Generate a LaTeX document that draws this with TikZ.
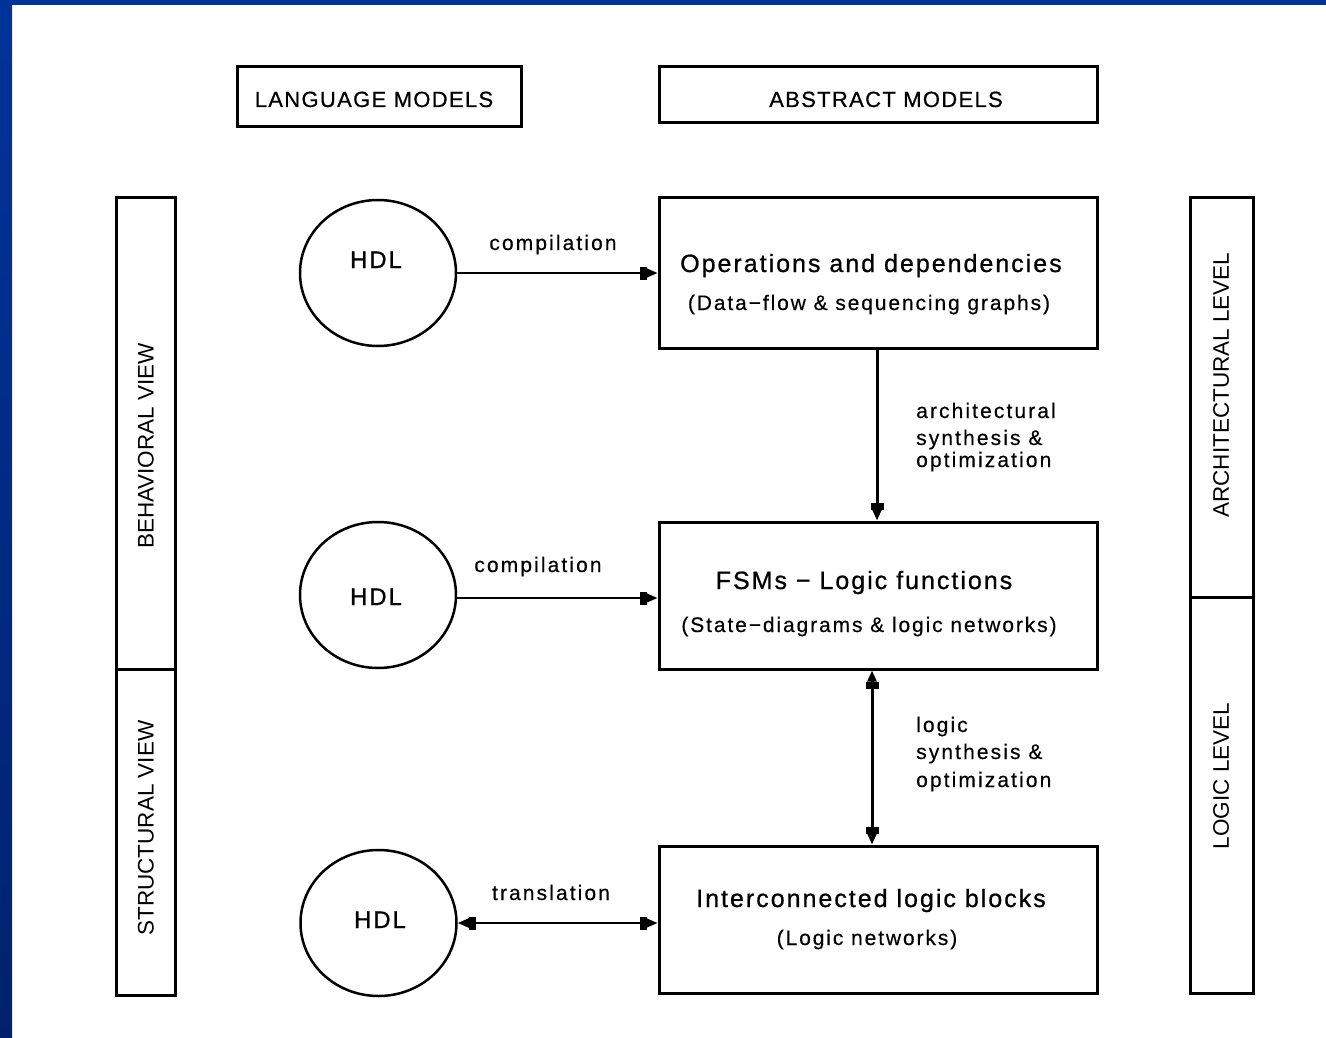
\documentclass[tikz,border=0pt]{standalone}
\usepackage{fontspec}
\usetikzlibrary{arrows.meta,shapes.geometric}
\setmainfont{Liberation Sans}
\newfontfamily\hdrfont[LetterSpace=6,FakeBold=0.6]{Liberation Sans}
\newfontfamily\boxfont[LetterSpace=8,FakeBold=0.8]{Liberation Sans}
\newfontfamily\subfont[LetterSpace=9,FakeBold=0.4]{Liberation Sans}
\newfontfamily\lblfont[LetterSpace=10,FakeBold=0.4]{Liberation Sans}
\newfontfamily\plfont{Liberation Sans}
\definecolor{bluebar}{HTML}{003399}
\definecolor{bluebardark}{HTML}{00226E}
\begin{document}
\begin{tikzpicture}[x=1pt,y=-1pt,
  frame/.style={draw,line width=3pt,inner sep=0pt},
  hdl/.style={draw,ellipse,line width=2.5pt,minimum width=156pt,minimum height=146pt,inner sep=0pt},
  boxtxt/.style={inner sep=0pt,anchor=base,font=\boxfont\fontsize{25}{27}\selectfont},
  subtxt/.style={inner sep=0pt,anchor=base,font=\subfont\fontsize{21}{23}\selectfont},
  lbl/.style={inner sep=0pt,anchor=base,font=\lblfont\fontsize{21}{23}\selectfont},
  lbll/.style={lbl,anchor=base west},
  hdr/.style={inner sep=0pt,anchor=base,font=\hdrfont\fontsize{22}{24}\selectfont},
  vtxt/.style={inner sep=0pt,rotate=90,font=\plfont\fontsize{22.5}{24}\selectfont},
  hdltxt/.style={inner sep=0pt,anchor=base,font=\boxfont\fontsize{24}{26}\selectfont},
  arrtip/.style={line width=2pt,-{Rectangle[length=7pt,width=13pt]Triangle[length=11pt,width=9pt]}},
  arrtipv/.style={line width=3pt,-{Rectangle[length=7pt,width=13pt]Triangle[length=11pt,width=9pt]}},
  bitip/.style={line width=2pt,{Triangle[length=11pt,width=9pt]Rectangle[length=7pt,width=13pt]}-{Rectangle[length=7pt,width=13pt]Triangle[length=11pt,width=9pt]}},
  bitipv/.style={line width=3pt,{Triangle[length=11pt,width=9pt]Rectangle[length=7pt,width=13pt]}-{Rectangle[length=7pt,width=13pt]Triangle[length=11pt,width=9pt]}}
]
\useasboundingbox (0,0) rectangle (1326,1038);
\fill[white] (0,0) rectangle (1326,1038);
% blue border
\fill[bluebar] (0,0) rectangle (1326,5);
\shade[top color=bluebar,bottom color=bluebardark] (0,0) rectangle (12,1038);

% header boxes
\node[frame,minimum width=284pt,minimum height=60pt] (lang) at (379,97) {};
\node[hdr] (langt) at (374,107) {LANGUAGE MODELS};
\node[frame,minimum width=438pt,minimum height=56pt] (abs) at (878,95) {};
\node[hdr] (abst) at (886,107) {ABSTRACT MODELS};

% side view boxes
\node[frame,minimum width=59pt,minimum height=471pt] (beh) at (145.5,433.5) {};
\node[frame,minimum width=59pt,minimum height=326pt] (str) at (145.5,832) {};
\node[vtxt] (beht) at (146,446) {BEHAVIORAL VIEW};
\node[vtxt] (strt) at (146,828) {STRUCTURAL VIEW};
\node[frame,minimum width=63pt,minimum height=399pt] (arch) at (1221.5,397.5) {};
\node[frame,minimum width=63pt,minimum height=396pt] (logl) at (1221.5,795) {};
\node[vtxt] (archt) at (1221,385) {ARCHITECTURAL LEVEL};
\node[vtxt] (loglt) at (1221,776) {LOGIC LEVEL};

% HDL circles
\node[hdl] (c1) at (378,273) {};
\node[hdl] (c2) at (378,595) {};
\node[hdl] (c3) at (378.5,923) {};
\node[hdltxt] (h1) at (376,268) {HDL};
\node[hdltxt] (h2) at (376,605) {HDL};
\node[hdltxt] (h3) at (380,928) {HDL};

% abstract model boxes
\node[frame,minimum width=438pt,minimum height=150pt] (b1) at (878,273) {};
\node[boxtxt] (b1a) at (871,272) {Operations and dependencies};
\node[subtxt] (b1b) at (869,310) {(Data−flow \& sequencing graphs)};
\node[frame,minimum width=438pt,minimum height=147pt] (b2) at (878,595.5) {};
\node[boxtxt] (b2a) at (864,589) {FSMs − Logic functions};
\node[subtxt] (b2b) at (869,632) {(State−diagrams \& logic networks)};
\node[frame,minimum width=438pt,minimum height=147pt] (b3) at (878,919.5) {};
\node[boxtxt] (b3a) at (871,907) {Interconnected logic blocks};
\node[subtxt] (b3b) at (867,945) {(Logic networks)};

% connectors
\draw[arrtip] (c1.east) -- (c1.east -| b1.west);
\draw[arrtip] (c2.east |- 0,598) -- (b2.west |- 0,598);
\draw[bitip] (c3.east) -- (c3.east -| b3.west);
\draw[arrtipv] ([xshift=-1pt]b1.south) -- ([xshift=-1pt]b2.north);
\draw[bitipv] ([xshift=-6pt]b2.south) -- ([xshift=-6pt]b3.north);

% connector labels
\node[lbl] (l1) at (553,250) {compilation};
\node[lbl] (l2) at (538,572) {compilation};
\node[lbl] (l3) at (551,900) {translation};
\node[lbll] (a1) at (916,418) {architectural};
\node[lbll] (a2) at (916,445) {synthesis \&};
\node[lbll] (a3) at (916,467) {optimization};
\node[lbll] (g1) at (916,732) {logic};
\node[lbll] (g2) at (916,759) {synthesis \&};
\node[lbll] (g3) at (916,787) {optimization};
\end{tikzpicture}
\end{document}
